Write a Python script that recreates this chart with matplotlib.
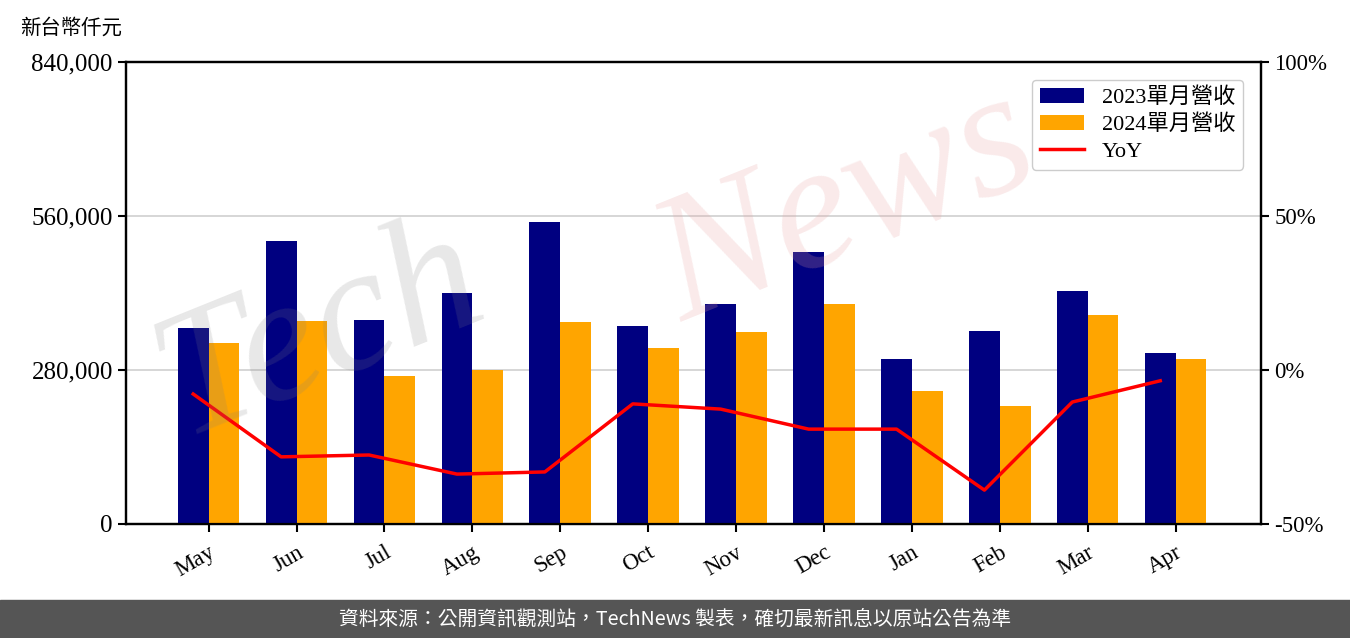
import numpy as np
import matplotlib
matplotlib.use('Agg')
import matplotlib.pyplot as plt
from matplotlib.ticker import FuncFormatter

plt.rcParams['font.family'] = ['Liberation Serif', 'Noto Sans CJK TC']

months = ['May', 'Jun', 'Jul', 'Aug', 'Sep', 'Oct', 'Nov', 'Dec', 'Jan', 'Feb', 'Mar', 'Apr']
rev_2023 = [356400, 514500, 370900, 420000, 549000, 360000, 400000, 494500, 300000, 351000, 423600, 311000]
rev_2024 = [329000, 369000, 269000, 280000, 367000, 320000, 349000, 400000, 241800, 214500, 380000, 300000]
yoy = [-7.8, -28.2, -27.6, -33.8, -33.1, -11.0, -12.7, -19.2, -19.2, -39.0, -10.4, -3.5]

fig = plt.figure(figsize=(13.5, 6.38), dpi=100)
ax = fig.add_axes([0.0933, 0.1787, 0.8407, 0.7241])
ax2 = ax.twinx()

x = np.arange(len(months))
w = 0.35
ax.bar(x - w/2, rev_2023, w, color='#000080', label='2023單月營收', zorder=3)
ax.bar(x + w/2, rev_2024, w, color='#FFA500', label='2024單月營收', zorder=3)
ln, = ax2.plot(x - w/2, yoy, color='red', lw=2.5, label='YoY')

ax.set_xlim(-0.94, 11.97)
ax.set_ylim(0, 840000)
ax.set_yticks([0, 280000, 560000, 840000])
ax.yaxis.set_major_formatter(FuncFormatter(lambda v, p: '{:,.0f}'.format(v)))
ax.grid(axis='y', color='#d0d0d0', lw=1.2, zorder=0)
ax.set_xticks(x)
ax.set_xticklabels(months, rotation=30, ha='right', rotation_mode='anchor')
ax.tick_params(axis='y', labelsize=18, width=1.5, length=6)
ax.tick_params(axis='x', labelsize=16.5, width=1.5, length=6, pad=7)

ax2.set_ylim(-50, 100)
ax2.set_yticks([-50, 0, 50, 100])
ax2.yaxis.set_major_formatter(FuncFormatter(lambda v, p: '{:.0f}%'.format(v)))
ax2.tick_params(axis='y', labelsize=16.5, width=1.5, length=6)

for a in (ax, ax2):
    for s in a.spines.values():
        s.set_linewidth(1.6)

h1, l1 = ax.get_legend_handles_labels()
leg = ax.legend(h1 + [ln], l1 + ['YoY'], loc='upper right', fontsize=16,
                framealpha=1, edgecolor='#cccccc', handlelength=2.0,
                borderaxespad=0.8, labelspacing=0.28, borderpad=0.35)

fig.text(0.015, 0.955, '新台幣仟元', fontsize=14.7, ha='left', va='center')

# watermark
fig.text(0.10, 0.32, 'Tech', fontsize=130, color='#808080', alpha=0.18,
         rotation=22, style='italic', zorder=10)
fig.text(0.47, 0.50, 'News', fontsize=130, color='#e8a0a0', alpha=0.22,
         rotation=22, style='italic', zorder=10)

# footer band
fig.patches.append(plt.Rectangle((0, 0), 1, 38/638, transform=fig.transFigure,
                                 color='#555555', zorder=0))
fig.text(0.5, 19/638, '資料來源：公開資訊觀測站，TechNews 製表，確切最新訊息以原站公告為準',
         color='white', fontsize=14.2, ha='center', va='center',
         family=['Noto Sans CJK TC', 'DejaVu Sans'])

fig.savefig('out.png', dpi=100)
